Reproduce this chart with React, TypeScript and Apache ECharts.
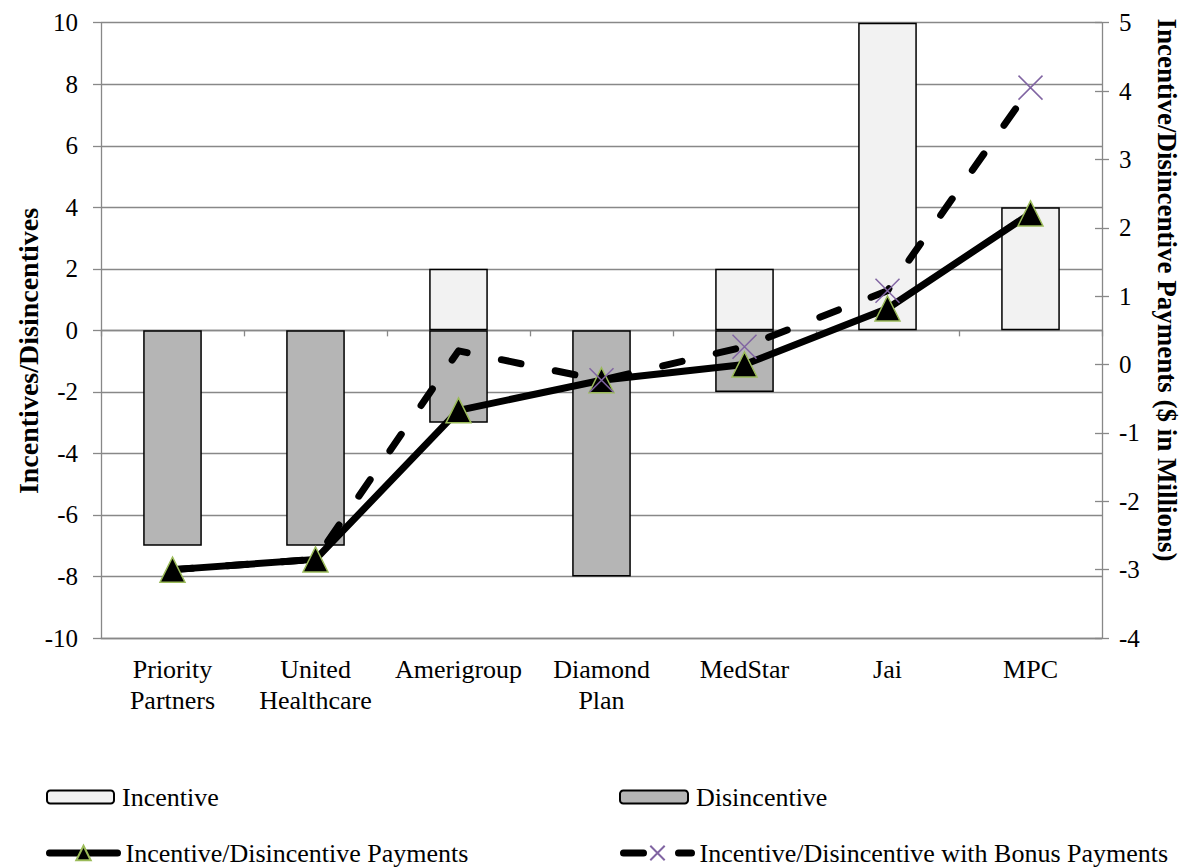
import React, { useEffect, useRef } from "react";
import * as echarts from "echarts";

const categories = [
  "Priority\nPartners",
  "United\nHealthcare",
  "Amerigroup",
  "Diamond\nPlan",
  "MedStar",
  "Jai",
  "MPC",
];
const incentive: (number | null)[] = [null, null, 2, null, 2, 10, 4];
const disincentive: (number | null)[] = [-7, -7, -3, -8, -2, null, null];
const payments = [-3.0, -2.85, -0.67, -0.23, 0.0, 0.82, 2.21];
const bonusPayments = [-3.0, -2.85, 0.2, -0.23, 0.26, 1.08, 4.05];
const bonusMarkerShown = [false, false, false, true, true, true, true];

const leftAxis = { min: -10, max: 10, interval: 2 };
const rightAxis = { min: -4, max: 5, interval: 1 };

const leftTitle = "Incentives/Disincentives";
const rightTitle = "Incentive/Disincentive Payments ($ in Millions)";

const FONT = '"Liberation Serif", "Times New Roman", serif';
const GRAY = "#888888";
const LINE_W = 7;
const DASH = [20, 35];

export default function App() {
  const ref = useRef<HTMLDivElement>(null);

  useEffect(() => {
    document.body.style.margin = "0";
    const chart = echarts.init(ref.current!, null, { renderer: "svg" });

    const bonusData = bonusPayments.map((v, i) =>
      bonusMarkerShown[i] ? v : { value: v, symbol: "none" }
    );

    const legendBase = {
      orient: "horizontal",
      padding: 0,
      selectedMode: false,
      textStyle: { fontFamily: FONT, fontSize: 26, color: "#000" },
    };

    chart.setOption({
      animation: false,
      backgroundColor: "#fff",
      textStyle: { fontFamily: FONT },
      grid: { left: 101, right: 80, top: 22.7, bottom: 229, containLabel: false },
      legend: [
        {
          ...legendBase,
          data: ["Incentive"],
          left: 46,
          top: 784,
          itemWidth: 67,
          itemHeight: 13,
          textStyle: { ...legendBase.textStyle, padding: [0, 0, 0, 3] },
        },
        {
          ...legendBase,
          data: ["Disincentive"],
          left: 619,
          top: 784,
          itemWidth: 68,
          itemHeight: 13,
          textStyle: { ...legendBase.textStyle, padding: [0, 0, 0, 3] },
        },
        {
          ...legendBase,
          data: ["Incentive/Disincentive Payments"],
          left: 46,
          top: 840,
          itemWidth: 68,
          itemHeight: 18,
          lineStyle: { width: LINE_W, cap: "round", type: "solid" },
          textStyle: { ...legendBase.textStyle, padding: [0, 0, 0, 3] },
        },
        {
          ...legendBase,
          data: ["Incentive/Disincentive with Bonus Payments"],
          left: 620,
          top: 840,
          itemWidth: 68,
          itemHeight: 18,
          lineStyle: { width: LINE_W, cap: "round", type: DASH },
          textStyle: { ...legendBase.textStyle, padding: [0, 0, 0, 3] },
        },
      ],
      xAxis: [
        {
          type: "category",
          data: categories,
          position: "bottom",
          axisLine: { show: true, onZero: false, lineStyle: { color: GRAY, width: 1.3 } },
          axisTick: { show: false },
          axisLabel: {
            interval: 0,
            margin: 16,
            fontFamily: FONT,
            fontSize: 26,
            lineHeight: 31,
            color: "#000",
          },
          splitLine: { show: false },
        },
        {
          type: "category",
          data: categories,
          position: "bottom",
          axisLine: {
            show: true,
            onZero: true,
            onZeroAxisIndex: 0,
            lineStyle: { color: GRAY, width: 1.3 },
          },
          axisTick: { show: true, length: 6, lineStyle: { color: GRAY, width: 1.3 } },
          axisLabel: { show: false },
          splitLine: { show: false },
        },
      ],
      yAxis: [
        {
          type: "value",
          position: "left",
          min: leftAxis.min,
          max: leftAxis.max,
          interval: leftAxis.interval,
          axisLine: { show: true, lineStyle: { color: GRAY, width: 1.3 } },
          axisTick: { show: true, length: 8, lineStyle: { color: GRAY, width: 1.3 } },
          splitLine: { show: true, lineStyle: { color: GRAY, width: 1.3 } },
          axisLabel: { fontFamily: FONT, fontSize: 25, color: "#000", margin: 23 },
        },
        {
          type: "value",
          position: "right",
          min: rightAxis.min,
          max: rightAxis.max,
          interval: rightAxis.interval,
          axisLine: { show: true, lineStyle: { color: GRAY, width: 1.3 } },
          axisTick: { show: true, length: 7, lineStyle: { color: GRAY, width: 1.3 } },
          splitLine: { show: false },
          axisLabel: { fontFamily: FONT, fontSize: 25, color: "#000", margin: 17 },
        },
        {
          type: "value",
          position: "right",
          min: rightAxis.min,
          max: rightAxis.max,
          interval: rightAxis.interval,
          axisLine: { show: false },
          axisTick: { show: true, inside: true, length: 7, lineStyle: { color: GRAY, width: 1.3 } },
          splitLine: { show: false },
          axisLabel: { show: false },
        },
      ],
      graphic: [
        {
          type: "text",
          x: 28,
          y: 351,
          rotation: Math.PI / 2,
          style: {
            text: leftTitle,
            font: `bold 28px ${FONT}`,
            fill: "#000",
            align: "center",
            verticalAlign: "middle",
          },
        },
        {
          type: "text",
          x: 1167,
          y: 290,
          rotation: -Math.PI / 2,
          style: {
            text: rightTitle,
            font: `bold 27px ${FONT}`,
            fill: "#000",
            align: "center",
            verticalAlign: "middle",
          },
        },
      ],
      series: [
        {
          name: "Incentive",
          type: "bar",
          xAxisIndex: 0,
          yAxisIndex: 0,
          data: incentive,
          barWidth: "41%",
          barGap: "-100%",
          itemStyle: { color: "#f2f2f2", borderColor: "#000", borderWidth: 1.5 },
        },
        {
          name: "Disincentive",
          type: "bar",
          xAxisIndex: 0,
          yAxisIndex: 0,
          data: disincentive,
          barWidth: "41%",
          barGap: "-100%",
          itemStyle: { color: "#b5b5b5", borderColor: "#000", borderWidth: 1.5 },
        },
        {
          name: "Incentive/Disincentive Payments",
          type: "line",
          xAxisIndex: 0,
          yAxisIndex: 1,
          data: payments,
          symbol: "triangle",
          symbolSize: 25,
          itemStyle: { color: "#000", borderColor: "#9bbb59", borderWidth: 1.5 },
          lineStyle: { color: "#000", width: LINE_W, cap: "round", join: "round" },
        },
        {
          name: "Incentive/Disincentive with Bonus Payments",
          type: "line",
          xAxisIndex: 0,
          yAxisIndex: 1,
          data: bonusData,
          symbol: "path://M0,0L10,10M10,0L0,10",
          symbolSize: 24,
          itemStyle: { color: "#8064a2", borderColor: "#8064a2", borderWidth: 1.5 },
          lineStyle: { color: "#000", width: LINE_W, type: DASH, cap: "round", join: "round" },
        },
      ],
    });

    return () => chart.dispose();
  }, []);

  return (
    <div
      ref={ref}
      style={{ position: "absolute", left: 0, top: 0, width: 1182, height: 867, background: "#fff" }}
    />
  );
}
